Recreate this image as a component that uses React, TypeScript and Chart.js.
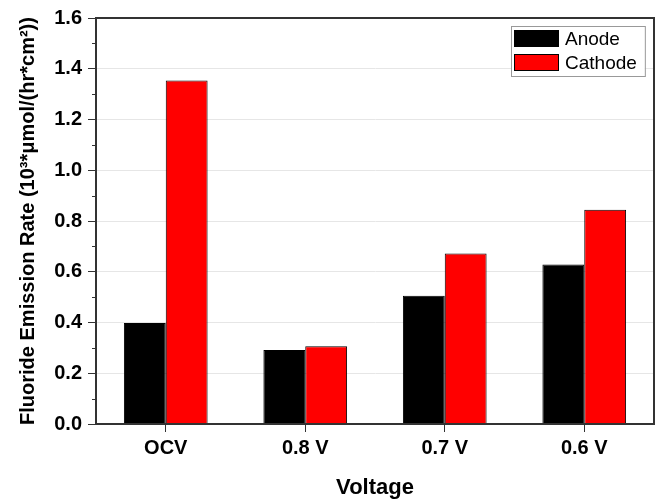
import { useEffect, useRef } from 'react';
import { Chart, registerables } from 'chart.js';

Chart.register(...registerables);

const categories = ['OCV', '0.8 V', '0.7 V', '0.6 V'];
const anodeValues = [0.398, 0.292, 0.505, 0.629];
const cathodeValues = [1.354, 0.306, 0.672, 0.844];
const seriesNames = ['Anode', 'Cathode'];
const seriesColors = ['#000000', '#ff0000'];
const yMin = 0;
const yMax = 1.6;
const yStep = 0.2;
const yMinorTicks = [0.1, 0.3, 0.5, 0.7, 0.9, 1.1, 1.3, 1.5];
const xTitle = 'Voltage';
const yTitle = 'Fluoride Emission Rate (10³*μmol/(hr*cm²))';

const FONT = '"Liberation Sans", Arial, Helvetica, sans-serif';
const AXIS_COLOR = '#333333';

const framePlugin = {
  id: 'frameAndMinor',
  afterDatasetsDraw(chart: any) {
    const { ctx, chartArea } = chart;
    const ys = chart.scales.y;
    ctx.save();
    // minor ticks
    ctx.strokeStyle = AXIS_COLOR;
    ctx.lineWidth = 1;
    yMinorTicks.forEach((v) => {
      const y = Math.round(ys.getPixelForValue(v)) + 0.5;
      ctx.beginPath();
      ctx.moveTo(chartArea.left - 4, y);
      ctx.lineTo(chartArea.left, y);
      ctx.stroke();
    });
    // frame
    ctx.lineWidth = 2;
    ctx.strokeRect(chartArea.left, chartArea.top, chartArea.right - chartArea.left, chartArea.bottom - chartArea.top);
    ctx.restore();
  },
};

const legendPlugin = {
  id: 'insideLegend',
  afterDraw(chart: any) {
    const { ctx, chartArea } = chart;
    const ds = chart.data.datasets;
    ctx.save();
    ctx.font = `19px ${FONT}`;
    const sw = 45;
    const sh = 17;
    const rowH = 24;
    const pad = 3;
    const gap = 6;
    const textW = Math.max(...ds.map((d: any) => ctx.measureText(d.label).width));
    const boxW = pad + sw + gap + textW + 8;
    const boxH = 4 + rowH * (ds.length - 1) + sh + 5;
    const right = chartArea.right - 9;
    const left = Math.round(right - boxW);
    const top = chartArea.top + 8;
    ctx.fillStyle = '#ffffff';
    ctx.fillRect(left, top, boxW, boxH);
    ctx.strokeStyle = '#999999';
    ctx.lineWidth = 1;
    ctx.strokeRect(left + 0.5, top + 0.5, boxW, boxH);
    ds.forEach((d: any, i: number) => {
      const y = top + 4 + i * rowH;
      ctx.fillStyle = d.backgroundColor;
      ctx.fillRect(left + pad, y, sw, sh);
      ctx.strokeStyle = '#000000';
      ctx.strokeRect(left + pad + 0.5, y + 0.5, sw - 1, sh - 1);
      ctx.fillStyle = '#000000';
      ctx.textBaseline = 'middle';
      ctx.textAlign = 'left';
      ctx.fillText(d.label, left + pad + sw + gap, y + sh / 2 + 1);
    });
    ctx.restore();
  },
};

export default function App() {
  const ref = useRef<HTMLCanvasElement | null>(null);

  useEffect(() => {
    if (!ref.current) return;
    const chart = new Chart(ref.current, {
      type: 'bar',
      data: {
        labels: categories,
        datasets: [
          {
            label: seriesNames[0],
            data: anodeValues,
            backgroundColor: seriesColors[0],
            borderColor: '#000000',
            borderWidth: 1,
            categoryPercentage: 0.6,
            barPercentage: 1.0,
          },
          {
            label: seriesNames[1],
            data: cathodeValues,
            backgroundColor: seriesColors[1],
            borderColor: '#000000',
            borderWidth: 1,
            categoryPercentage: 0.6,
            barPercentage: 1.0,
          },
        ],
      },
      options: {
        responsive: false,
        animation: false,
        layout: { padding: { top: 15, right: 11, left: 0, bottom: 0 } },
        plugins: {
          legend: { display: false },
          tooltip: { enabled: false },
        },
        scales: {
          x: {
            grid: {
              offset: false,
              drawOnChartArea: false,
              drawTicks: true,
              tickLength: 8,
              tickColor: AXIS_COLOR,
              tickWidth: 1,
            },
            border: { display: true, color: AXIS_COLOR, width: 2 },
            ticks: {
              color: '#000000',
              padding: 4,
              font: { family: FONT, size: 20, weight: 'bold' },
            },
            title: {
              display: true,
              text: xTitle,
              color: '#000000',
              font: { family: FONT, size: 22, weight: 'bold' },
              padding: { top: 0, bottom: 0 },
            },
            afterFit(scale: any) {
              scale.height = 77;
            },
          },
          y: {
            min: yMin,
            max: yMax,
            grid: {
              color: '#e6e6e6',
              lineWidth: 1,
              tickLength: 8,
              tickColor: AXIS_COLOR,
              tickWidth: 1,
            },
            border: { display: true, color: AXIS_COLOR, width: 2 },
            ticks: {
              stepSize: yStep,
              color: '#000000',
              padding: 6,
              font: { family: FONT, size: 20, weight: 'bold' },
              callback: (v: any) => Number(v).toFixed(1),
            },
            title: {
              display: true,
              text: yTitle,
              color: '#000000',
              font: { family: FONT, size: 20, weight: 'bold' },
              padding: { top: 16, bottom: 0 },
            },
            afterFit(scale: any) {
              scale.width = 96;
            },
          },
        },
      },
      plugins: [framePlugin, legendPlugin],
    } as any);
    return () => chart.destroy();
  }, []);

  return (
    <div style={{ position: 'fixed', left: 0, top: 0, width: 665, height: 501, background: '#ffffff' }}>
      <canvas ref={ref} width={665} height={501} style={{ display: 'block' }} />
    </div>
  );
}
